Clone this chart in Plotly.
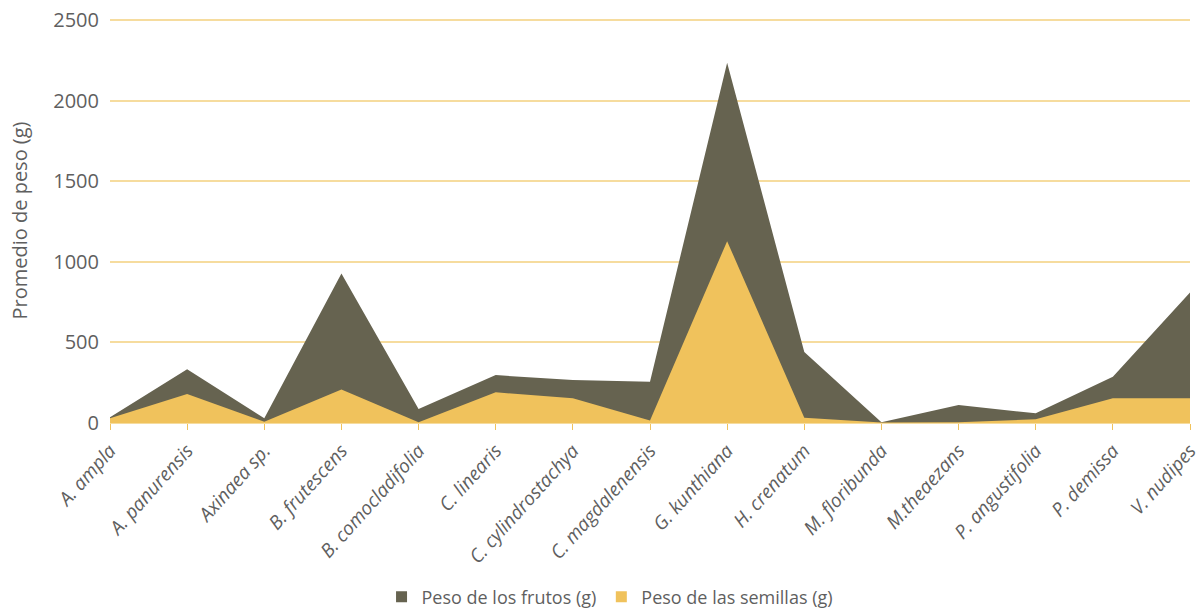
import plotly.graph_objects as go

# Species (x categories)
especies = [
    "A. ampla", "A. panurensis", "Axinaea sp.", "B. frutescens", "B. comocladifolia",
    "C. linearis", "C. cylindrostachya", "C. magdalenensis", "G. kunthiana",
    "H. crenatum", "M. floribunda", "M.theaezans", "P. angustifolia",
    "P. demissa", "V. nudipes",
]

# Average weights (g)
peso_frutos = [35, 334, 29, 927, 87, 297, 266, 256, 2235, 441, 5, 111, 60, 287, 809]
peso_semillas = [30, 180, 8, 208, 4, 190, 153, 15, 1128, 33, 3, 5, 23, 153, 153]

COLOR_FRUTOS = "#666350"
COLOR_SEMILLAS = "#F0C25C"
GRID = "#F6DC9E"
TEXT = "#5F5F5F"
FONT = "Open Sans"

series = [
    ("Peso de los frutos (g)", peso_frutos, COLOR_FRUTOS),
    ("Peso de las semillas (g)", peso_semillas, COLOR_SEMILLAS),
]

fig = go.Figure()
for nombre, valores, color in series:
    fig.add_trace(go.Scatter(
        x=especies, y=valores, name=nombre, legendgroup=nombre,
        mode="lines", fill="tozeroy", fillcolor=color,
        line=dict(width=0, color=color), showlegend=False,
    ))
# legend entries drawn as small square swatches
for nombre, _, color in series:
    fig.add_trace(go.Scatter(
        x=[None], y=[None], name=nombre, legendgroup=nombre,
        mode="markers", marker=dict(symbol="square", size=11, color=color),
    ))

fig.update_layout(
    width=1202, height=608,
    margin=dict(l=110, r=12, t=18, b=185, autoexpand=False),
    paper_bgcolor="white", plot_bgcolor="white",
    font=dict(family=FONT, color=TEXT, size=16),
    legend=dict(
        orientation="h", x=0.463, xanchor="center", y=-0.43, yanchor="middle",
        font=dict(size=18, color=TEXT), itemwidth=30, traceorder="normal",
    ),
    showlegend=True,
)
fig.update_xaxes(
    type="category", range=[0, len(especies) - 1], automargin=False,
    tickangle=-48, tickfont=dict(size=19, style="italic", color=TEXT),
    ticklabelshift=0, ticklabelstandoff=2,
    ticks="outside", ticklen=6, tickcolor=COLOR_SEMILLAS,
    showline=True, linecolor=GRID, linewidth=1,
    showgrid=False, zeroline=False,
)
fig.update_yaxes(
    range=[0, 2512], tickvals=[0, 500, 1000, 1500, 2000, 2500], automargin=False,
    showgrid=True, gridcolor=GRID, gridwidth=1.5,
    zeroline=False, showline=False,
    tickfont=dict(size=20, color=TEXT), ticks="", ticklabelstandoff=10,
    title=dict(text="Promedio de peso (g)", font=dict(size=20, color=TEXT), standoff=20),
)

fig.write_html("out.html")
